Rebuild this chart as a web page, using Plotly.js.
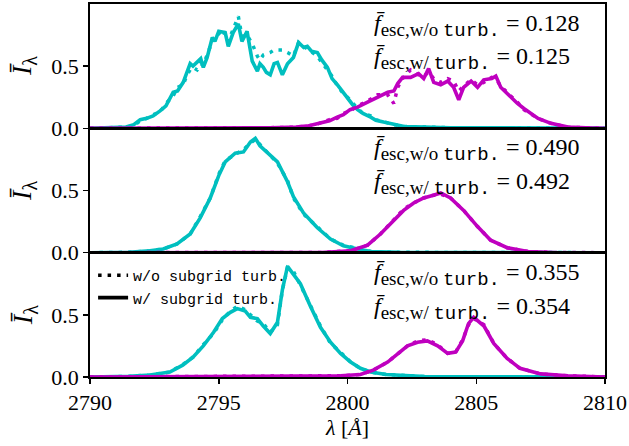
<!DOCTYPE html>
<html><head><meta charset="utf-8">
<script src="https://cdn.plot.ly/plotly-3.0.1.min.js"></script>
<style>body{margin:0;background:#fff}#c{width:629px;height:446px}</style>
</head><body><div id="c"></div>
<script>
// ---- data (wavelength in Angstrom, normalised intensity) ----
// Panel 1
const lam1c = [2790.0,2791.0,2791.4,2791.7,2791.95,2792.2,2792.45,2792.72,2792.95,2793.23,2793.4,2793.62,2793.75,2793.89,2794.0,2794.16,2794.3,2794.4,2794.55,2794.75,2794.85,2795.0,2795.15,2795.25,2795.37,2795.56,2795.76,2795.9,2796.1,2796.3,2796.5,2796.6,2796.73,2796.85,2797.0,2797.15,2797.28,2797.47,2797.67,2797.9,2798.1,2798.3,2798.44,2798.6,2798.83,2799.0,2799.22,2799.4,2799.61,2799.84,2800.0,2800.2,2800.39,2800.6,2800.9,2801.1,2801.4,2801.8,2802.2,2803.0,2804.0,2806.0,2810.0];
const I1c_turb = [0,0.005,0.01,0.03,0.07,0.08,0.10,0.14,0.18,0.29,0.30,0.37,0.45,0.52,0.50,0.53,0.56,0.49,0.57,0.73,0.70,0.78,0.77,0.77,0.66,0.77,0.84,0.70,0.78,0.54,0.46,0.52,0.49,0.45,0.43,0.52,0.53,0.43,0.52,0.57,0.69,0.65,0.66,0.62,0.61,0.55,0.49,0.40,0.35,0.29,0.24,0.19,0.15,0.12,0.09,0.065,0.05,0.03,0.015,0.01,0.005,0.005,0];
const I1c_noturb = [0,0.005,0.01,0.02,0.06,0.08,0.11,0.13,0.20,0.26,0.33,0.35,0.42,0.47,0.49,0.47,0.52,0.51,0.60,0.70,0.74,0.76,0.80,0.74,0.70,0.80,0.90,0.74,0.75,0.68,0.58,0.55,0.59,0.60,0.61,0.63,0.63,0.63,0.61,0.58,0.69,0.66,0.64,0.62,0.58,0.53,0.47,0.42,0.34,0.28,0.25,0.20,0.16,0.12,0.10,0.07,0.05,0.03,0.015,0.01,0.005,0.005,0];
const lam1m = [2790.0,2796.0,2797.0,2798.0,2798.5,2798.9,2799.3,2799.6,2799.84,2800.1,2800.39,2800.78,2801.17,2801.56,2801.8,2801.95,2802.14,2802.45,2802.76,2802.96,2803.15,2803.35,2803.62,2803.89,2804.12,2804.32,2804.51,2804.8,2805.05,2805.29,2805.6,2805.76,2805.95,2806.34,2806.6,2806.85,2807.1,2807.4,2807.9,2808.56,2809.5,2810.0];
const I1m_turb = [0,0,0.005,0.01,0.02,0.04,0.06,0.09,0.11,0.15,0.17,0.21,0.25,0.29,0.30,0.36,0.41,0.41,0.44,0.40,0.48,0.37,0.35,0.38,0.33,0.23,0.33,0.38,0.33,0.39,0.40,0.42,0.33,0.25,0.20,0.16,0.12,0.08,0.04,0.01,0.003,0];
const I1m_noturb = [0,0,0.005,0.01,0.02,0.04,0.07,0.08,0.12,0.14,0.18,0.22,0.27,0.27,0.20,0.33,0.40,0.47,0.43,0.42,0.45,0.40,0.37,0.40,0.38,0.30,0.34,0.39,0.35,0.37,0.41,0.40,0.34,0.26,0.21,0.15,0.12,0.08,0.04,0.01,0.003,0];

// Panel 2
const lam2c = [2790.0,2791.5,2792.33,2792.84,2793.38,2793.89,2794.28,2794.67,2795.0,2795.25,2795.64,2795.96,2796.23,2796.42,2796.6,2796.93,2797.28,2797.67,2797.9,2798.29,2798.83,2799.34,2799.84,2800.4,2800.9,2802.0,2810.0];
const I2c_turb = [0,0.003,0.016,0.03,0.07,0.15,0.28,0.44,0.62,0.73,0.80,0.81,0.89,0.92,0.86,0.80,0.73,0.57,0.45,0.32,0.20,0.11,0.055,0.03,0.01,0.003,0];
const I2c_noturb = [0,0.003,0.016,0.03,0.07,0.15,0.29,0.44,0.63,0.74,0.79,0.83,0.88,0.91,0.87,0.80,0.72,0.58,0.44,0.31,0.21,0.11,0.06,0.03,0.01,0.003,0];
const lam2m = [2790.0,2799.0,2800.12,2800.78,2801.28,2801.8,2802.18,2802.57,2802.96,2803.3,2803.62,2804.0,2804.51,2805.05,2805.56,2806.2,2807.0,2808.0,2810.0];
const I2m_turb = [0,0.002,0.016,0.06,0.15,0.26,0.34,0.40,0.44,0.46,0.48,0.44,0.34,0.21,0.10,0.04,0.01,0.002,0];
const I2m_noturb = [0,0.002,0.016,0.06,0.15,0.26,0.35,0.40,0.44,0.46,0.47,0.44,0.34,0.21,0.10,0.04,0.01,0.002,0];

// Panel 3
const lam3c = [2790.0,2791.5,2792.33,2793.1,2793.6,2794.0,2794.4,2794.8,2795.14,2795.45,2795.72,2796.03,2796.23,2796.5,2796.73,2797.0,2797.28,2797.47,2797.67,2797.9,2798.17,2798.56,2798.95,2799.34,2799.73,2800.12,2800.5,2800.9,2801.5,2803.0,2810.0];
const I3c_turb = [0,0.005,0.016,0.04,0.095,0.16,0.25,0.36,0.47,0.52,0.55,0.53,0.48,0.47,0.41,0.35,0.44,0.70,0.89,0.83,0.75,0.57,0.40,0.28,0.19,0.12,0.07,0.04,0.02,0.003,0];
const I3c_noturb = [0,0.005,0.016,0.04,0.10,0.16,0.26,0.35,0.46,0.53,0.57,0.54,0.50,0.45,0.43,0.36,0.42,0.70,0.88,0.85,0.74,0.58,0.41,0.27,0.20,0.12,0.07,0.04,0.02,0.003,0];
const lam3m = [2790.0,2799.0,2799.73,2800.5,2801.0,2801.56,2801.95,2802.33,2802.72,2803.1,2803.5,2803.89,2804.2,2804.47,2804.7,2804.9,2805.3,2805.68,2806.2,2806.7,2807.5,2808.56,2810.0];
const I3m_turb = [0,0.003,0.01,0.02,0.055,0.12,0.19,0.25,0.28,0.29,0.25,0.19,0.20,0.29,0.43,0.48,0.41,0.27,0.15,0.07,0.025,0.01,0];
const I3m_noturb = [0,0.003,0.01,0.02,0.055,0.12,0.19,0.25,0.29,0.30,0.26,0.19,0.20,0.30,0.42,0.47,0.42,0.27,0.15,0.07,0.025,0.01,0];

const fescNoTurb = ["0.128","0.490","0.355"];
const fescTurb = ["0.125","0.492","0.354"];
const xTicks = [2790,2795,2800,2805,2810];
const yTicks = [0,0.5];
const yTickText = ["0.0","0.5"];
const legendNames = ["w/o subgrid turb.","w/ subgrid turb."];

// ---- styling ----
const CYAN = "rgb(0,191,191)", MAG = "rgb(191,0,191)";
const FONT = "Liberation Serif, DejaVu Serif, serif";
const MONO = "Liberation Mono";
const LW = 3.6;
const DOT = "3.5px,6px";

function tr(x, y, color, dash, ax) {
  return {x: x, y: y, type: "scatter", mode: "lines", xaxis: "x"+ax, yaxis: "y"+ax,
          line: {color: color, width: dash ? 3.5 : LW, dash: dash || "solid"},
          showlegend: false, hoverinfo: "skip"};
}

const panels = [
  [lam1c, I1c_noturb, I1c_turb, lam1m, I1m_noturb, I1m_turb],
  [lam2c, I2c_noturb, I2c_turb, lam2m, I2m_noturb, I2m_turb],
  [lam3c, I3c_noturb, I3c_turb, lam3m, I3m_noturb, I3m_turb]
];
const data = [];
panels.forEach((p, i) => {
  const ax = i === 0 ? "" : String(i+1);
  data.push(tr(p[0], p[2], CYAN, null, ax));
  data.push(tr(p[0], p[1], CYAN, DOT, ax));
  data.push(tr(p[3], p[5], MAG, null, ax));
  data.push(tr(p[3], p[4], MAG, DOT, ax));
});
// legend entries (each in its own legend box for exact placement)
data.push({x:[null], y:[null], type:"scatter", mode:"lines", xaxis:"x3", yaxis:"y3", legend:"legend",
  name: legendNames[0], line:{color:"black", width:3.5, dash:DOT}, showlegend:true});
data.push({x:[null], y:[null], type:"scatter", mode:"lines", xaxis:"x3", yaxis:"y3", legend:"legend2",
  name: legendNames[1], line:{color:"black", width:3.8}, showlegend:true});

function xax(domainAnchor, showLabels) {
  return {range:[2790,2810], anchor: domainAnchor, showgrid:false, zeroline:false,
    showline:true, mirror:true, linecolor:"black", linewidth:1.8,
    tickvals: xTicks, ticktext: xTicks.map(String), showticklabels: showLabels,
    ticks: showLabels ? "outside" : "", ticklen:5, tickwidth:1.5, tickcolor:"black",
    tickfont:{family:FONT, size:22, color:"black"}};
}
function yax(dom, anchor) {
  return {domain: dom, range:[0,1.0], anchor: anchor, showgrid:false, zeroline:false,
    showline:true, mirror:true, linecolor:"black", linewidth:1.8,
    tickvals: yTicks, ticktext: yTickText, ticks:"outside", ticklen:5, tickwidth:1.5, tickcolor:"black",
    tickfont:{family:FONT, size:22, color:"black"}};
}

const annotations = [];
const yLine1 = [0.941, 0.609, 0.273];
const yLine2 = [0.853, 0.517, 0.182];
const yTitleY = [0.834, 0.499, 0.166];
const SUB = "font-size:19px";
for (let i = 0; i < 3; i++) {
  annotations.push({xref:"paper", yref:"paper", x:0.547, y:yLine1[i], xanchor:"left", yanchor:"middle", showarrow:false,
    text:"<i>f̄</i><sub><span style='" + SUB + "'>esc,w/o </span><span style='font-family:" + MONO + ";" + SUB + "'>turb.</span></sub> = " + fescNoTurb[i],
    font:{family:FONT, size:24, color:"black"}});
  annotations.push({xref:"paper", yref:"paper", x:0.547, y:yLine2[i], xanchor:"left", yanchor:"middle", showarrow:false,
    text:"<i>f̄</i><sub><span style='" + SUB + "'>esc,w/ </span><span style='font-family:" + MONO + ";" + SUB + "'>turb.</span></sub> = " + fescTurb[i],
    font:{family:FONT, size:24, color:"black"}});
  annotations.push({xref:"paper", yref:"paper", x:-0.128, y:yTitleY[i], xanchor:"center", yanchor:"middle", showarrow:false,
    textangle:-90, text:"<i>Ī</i><sub><span style='font-size:20px'>λ</span></sub>", font:{family:FONT, size:28, color:"black"}});
}

const legendBase = {x:0.006, xanchor:"left", yanchor:"middle", bgcolor:"rgba(0,0,0,0)",
  font:{family:MONO, size:15, color:"black"}, itemwidth:30};
const layout = {
  width:629, height:446, margin:{l:90, r:24, t:4, b:69},
  paper_bgcolor:"white", plot_bgcolor:"white",
  xaxis: xax("y", false), xaxis2: xax("y2", false), xaxis3: xax("y3", true),
  yaxis: yax([0.6667,1],"x"), yaxis2: yax([0.3333,0.6667],"x2"), yaxis3: yax([0,0.3333],"x3"),
  annotations: annotations,
  showlegend:true,
  legend: Object.assign({}, legendBase, {y:0.272}),
  legend2: Object.assign({}, legendBase, {y:0.212}),
};
layout.xaxis3.title = {text:"<i>λ</i> [<i>Å</i>]", font:{family:FONT, size:22, color:"black"}, standoff:0};

Plotly.newPlot("c", data, layout, {staticPlot:true, displayModeBar:false});
</script></body></html>
